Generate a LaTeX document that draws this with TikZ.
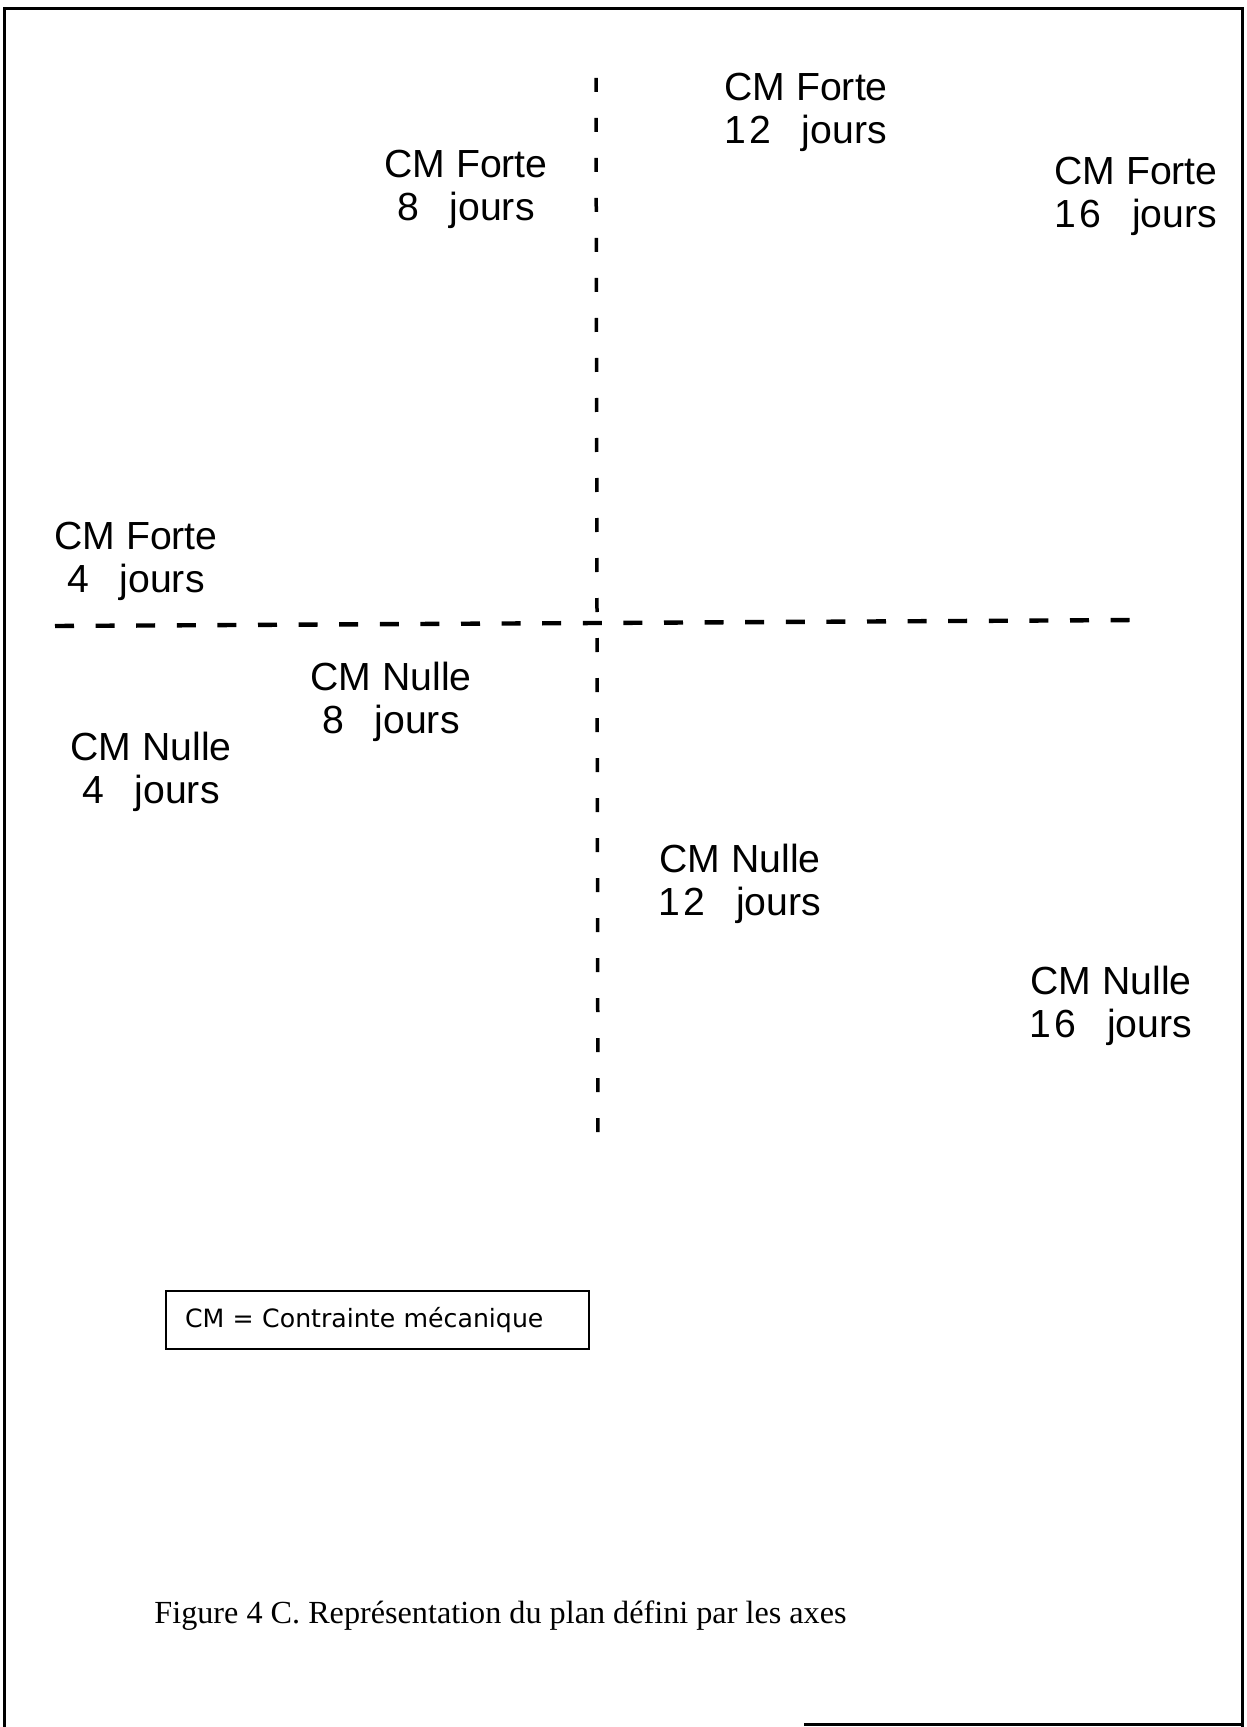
\documentclass[tikz,border=0pt]{standalone}
\usepackage{fontspec}
\setmainfont{Liberation Serif}
\newfontfamily\lblfont{Liberation Sans}
\newfontfamily\legfont{DejaVu Sans}
\begin{document}
\begin{tikzpicture}[x=0.5pt,y=-0.5pt,
  lbl/.style={font=\lblfont\fontsize{19.6}{21.5}\selectfont, align=center, inner sep=0pt, anchor=base},
  vaxis/.style={line width=1.75pt, dash pattern=on 7pt off 13pt},
  haxis/.style={line width=2.2pt, dash pattern=on 9.5pt off 10.8pt},
  frameline/.style={line width=1.5pt}]
\useasboundingbox (0,0) rectangle (1246,1727);
% frame
\draw[frameline] (4,1727) -- (4,9) -- (1242,9) -- (1242,1727);
\draw[frameline] (804,1724) -- (1242,1724);
% axes
\coordinate (vtop) at (596,78);
\coordinate (vbot) at (598,1150);
\coordinate (hl) at (55,626);
\coordinate (hr) at (1137,620);
\draw[vaxis] (vtop) -- (vbot);
\draw[haxis] (hl) -- (hr);
% labels (base = baseline of second line)
\def\gap{\hspace{0.78em}}
\node[lbl, anchor=base west, align=left] (f12) at (724,144) {CM Forte\\1\kern0.08em2\gap jours};
\node[lbl] (f8) at (466,221) {CM Forte\\8\gap jours};
\node[lbl] (f16) at (1136,228) {CM Forte\\1\kern0.08em6\gap jours};
\node[lbl] (f4) at (136,592) {CM Forte\\4\gap jours};
\node[lbl] (n8) at (391,733) {CM Nulle\\8\gap jours};
\node[lbl] (n4) at (151,803) {CM Nulle\\4\gap jours};
\node[lbl] (n12) at (740,915) {CM Nulle\\1\kern0.08em2\gap jours};
\node[lbl] (n16) at (1111,1037) {CM Nulle\\1\kern0.08em6\gap jours};
% legend
\node[draw, line width=1pt, anchor=west, minimum height=29pt, inner xsep=9.5pt, text width=192.5pt, align=left,
  font=\legfont\fontsize{12.6}{14}\selectfont] (legend) at (165,1320) {CM = Contrainte mécanique};
% caption
\node[anchor=base west, inner sep=0pt, font=\fontsize{16.1}{19}\selectfont] (caption) at (154,1623)
  {Figure 4 C. Représentation du plan défini par les axes};
\end{tikzpicture}
\end{document}
